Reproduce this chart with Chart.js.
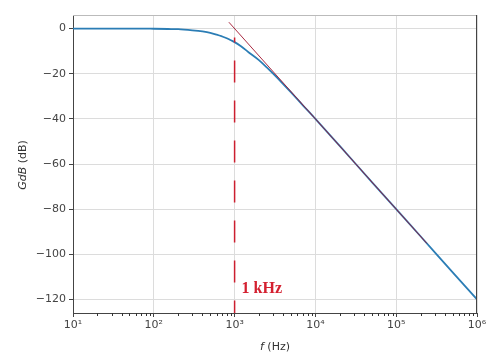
<!DOCTYPE html>
<html>
<head>
<meta charset="utf-8">
<script src="https://cdn.jsdelivr.net/npm/chart.js@4.4.1/dist/chart.umd.min.js"></script>
<style>
  html, body { margin: 0; padding: 0; background: #fff; }
  #wrap { width: 497px; height: 359px; }
</style>
</head>
<body>
<div id="wrap"><canvas id="myChart" width="497" height="359"></canvas></div>
<script>
// gain curve (Hz, dB)
const freqs = [10, 50, 100, 150, 200, 300, 400, 500, 600, 700, 800, 900, 1000, 1200, 1500, 2000, 2500, 3000, 4000, 5000, 7000, 10000, 20000, 50000, 100000, 200000, 500000, 1000000];
const gainDb = [0, 0, -0.1, -0.2, -0.3, -0.8, -1.3, -1.9, -2.7, -3.5, -4.3, -5.2, -6, -7.8, -10.6, -14, -17.2, -20, -24.6, -28.3, -34, -40, -52, -68, -80, -92, -108, -120];

// asymptote (red thin line)
const asymF = [850, 240000];
const asymDb = [2.8, -95.2];

// cut-off marker
const cutoffF = [1000, 1000];
const cutoffDb = [-4, -126];
const cutoffLabel = '1 kHz';

const yTicks = [-120, -100, -80, -60, -40, -20, 0];
const xMajor = [10, 100, 1000, 10000, 100000, 1000000];
const sup = {1: '¹', 2: '²', 3: '³', 4: '⁴', 5: '⁵', 6: '⁶'};

function pts(xs, ys) {
    const out = [];
    xs.forEach((x, i) => { out.push({x: x, y: ys[i]}); });
    return out;
}

const frame = {
    id: 'frame',
    afterDraw(chart) {
        const ctx = chart.ctx, a = chart.chartArea;
        const xs = chart.scales.x;
        ctx.save();
        // minor ticks on log axis
        ctx.strokeStyle = '#333';
        ctx.lineWidth = 1;
        for (let d = 10; d < 1000000; d *= 10) {
            for (let m = 2; m < 10; m++) {
                const px = Math.round(xs.getPixelForValue(d * m)) + 0.5;
                ctx.beginPath();
                ctx.moveTo(px, a.bottom);
                ctx.lineTo(px, a.bottom + 3);
                ctx.stroke();
            }
        }
        ctx.strokeStyle = '#bbb';
        ctx.beginPath();
        ctx.moveTo(a.left, a.top + 0.5);
        ctx.lineTo(a.right, a.top + 0.5);
        ctx.stroke();
        ctx.strokeStyle = '#444';
        ctx.beginPath();
        ctx.moveTo(a.right - 0.5, a.top);
        ctx.lineTo(a.right - 0.5, a.bottom);
        ctx.stroke();
        // cut-off label
        const px = chart.scales.x.getPixelForValue(1000);
        const py = chart.scales.y.getPixelForValue(-117);
        ctx.fillStyle = '#d42030';
        ctx.font = 'bold 16px "Liberation Serif", "DejaVu Serif", serif';
        ctx.textBaseline = 'alphabetic';
        ctx.fillText(cutoffLabel, px + 7, py);
        // y title with italic G_dB
        ctx.translate(23, 165);
        ctx.rotate(-Math.PI / 2);
        ctx.fillStyle = '#333';
        ctx.textBaseline = 'middle';
        ctx.font = 'italic 11px "DejaVu Sans"';
        const w1 = ctx.measureText('GdB').width;
        ctx.font = '11px "DejaVu Sans"';
        const w2 = ctx.measureText(' (dB)').width;
        let x0 = -(w1 + w2) / 2;
        ctx.font = 'italic 11px "DejaVu Sans"';
        ctx.fillText('GdB', x0, 0);
        ctx.font = '11px "DejaVu Sans"';
        ctx.fillText(' (dB)', x0 + w1, 0);
        ctx.restore();
        // x title
        ctx.save();
        ctx.fillStyle = '#333';
        ctx.textBaseline = 'middle';
        ctx.font = 'italic 11px "DejaVu Sans"';
        const f1 = ctx.measureText('f').width;
        ctx.font = '11px "DejaVu Sans"';
        const f2 = ctx.measureText(' (Hz)').width;
        const cx = (a.left + a.right) / 2 - (f1 + f2) / 2;
        ctx.font = 'italic 11px "DejaVu Sans"';
        ctx.fillText('f', cx, 347);
        ctx.font = '11px "DejaVu Sans"';
        ctx.fillText(' (Hz)', cx + f1, 347);
        ctx.restore();
    }
};

const config = {
    type: 'scatter',
    data: {
        datasets: [{
            data: pts(freqs, gainDb),
            showLine: true,
            borderColor: '#2b7db5',
            borderWidth: 1.8,
            pointRadius: 0,
            cubicInterpolationMode: 'monotone',
            order: 2
        }, {
            data: pts(asymF, asymDb),
            showLine: true,
            borderColor: 'rgba(160, 20, 45, 0.9)',
            borderWidth: 1,
            pointRadius: 0,
            order: 1
        }, {
            data: pts(cutoffF, cutoffDb),
            showLine: true,
            borderColor: '#cc1f2f',
            borderWidth: 1.5,
            borderDash: [22, 18],
            borderDashOffset: 17,
            pointRadius: 0,
            order: 0
        }]
    },
    options: {
        responsive: false,
        animation: false,
        layout: { padding: { top: 15, right: 20, left: 0, bottom: 0 } },
        plugins: { legend: { display: false }, tooltip: { enabled: false } },
        scales: {
            x: {
                type: 'logarithmic',
                min: 10,
                max: 1000000,
                afterFit(s) { s.height = 46; },
                afterBuildTicks(s) {
                    s.ticks = xMajor.map(v => ({value: v}));
                },
                ticks: {
                    autoSkip: false,
                    maxRotation: 0,
                    color: '#444',
                    padding: 2,
                    font: { family: 'DejaVu Sans', size: 11 },
                    callback: (v) => '10' + sup[Math.round(Math.log10(v))]
                },
                grid: { color: '#dcdcdc', tickColor: '#444', tickLength: 4 },
                border: { color: '#444', width: 1 }
            },
            y: {
                min: -126,
                max: 6,
                afterFit(s) { s.width = 73; },
                afterBuildTicks(s) {
                    s.ticks = yTicks.map(v => ({value: v}));
                },
                ticks: {
                    color: '#444',
                    padding: 3,
                    font: { family: 'DejaVu Sans', size: 11 },
                    callback: (v) => String(v).replace('-', '\u2212')
                },
                grid: { color: '#dcdcdc', tickColor: '#444', tickLength: 4 },
                border: { color: '#444', width: 1 }
            }
        }
    },
    plugins: [frame, {
        id: 'bg',
        beforeDraw(chart) {
            const ctx = chart.ctx;
            ctx.save();
            ctx.fillStyle = '#fff';
            ctx.fillRect(0, 0, chart.width, chart.height);
            ctx.restore();
        }
    }]
};

new Chart(document.getElementById('myChart'), config);
</script>
</body>
</html>
